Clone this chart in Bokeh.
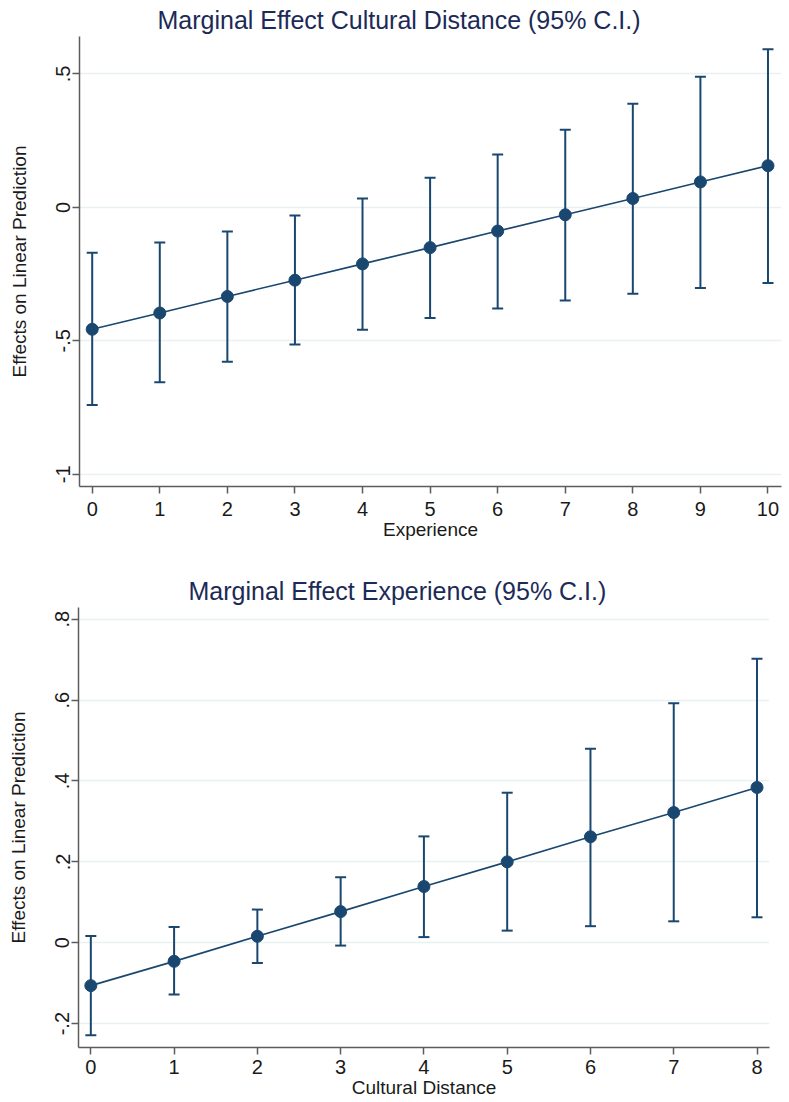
from bokeh.plotting import figure
from bokeh.models import ColumnDataSource, Whisker, TeeHead, Range1d, FixedTicker
from bokeh.embed import file_html
from bokeh.resources import INLINE

# ---- Data: Marginal effect of Cultural Distance over Experience ----
exp_x = [0, 1, 2, 3, 4, 5, 6, 7, 8, 9, 10]
exp_me = [-0.457, -0.396, -0.334, -0.273, -0.212, -0.151, -0.089, -0.028, 0.033, 0.095, 0.156]
exp_hi = [-0.170, -0.132, -0.091, -0.031, 0.033, 0.111, 0.198, 0.291, 0.388, 0.489, 0.592]
exp_lo = [-0.741, -0.655, -0.579, -0.514, -0.459, -0.415, -0.379, -0.349, -0.324, -0.302, -0.284]
exp_yticks = [-1, -0.5, 0, 0.5]
exp_ylabels = ["-1", "-.5", "0", ".5"]

# ---- Data: Marginal effect of Experience over Cultural Distance ----
cd_x = [0, 1, 2, 3, 4, 5, 6, 7, 8]
cd_me = [-0.106, -0.046, 0.016, 0.077, 0.139, 0.200, 0.262, 0.322, 0.384]
cd_hi = [0.017, 0.039, 0.082, 0.162, 0.263, 0.371, 0.480, 0.592, 0.702]
cd_lo = [-0.229, -0.128, -0.050, -0.007, 0.014, 0.030, 0.041, 0.053, 0.063]
cd_yticks = [-0.2, 0, 0.2, 0.4, 0.6, 0.8]
cd_ylabels = ["-.2", "0", ".2", ".4", ".6", ".8"]

NAVY = "#1a476f"
TITLE_C = "#1c2a57"
AXIS_C = "#5c5c5c"
GRID_C = "#e9f1f2"
FONT = "Liberation Sans"


def make(title, xlabel, xs, me, hi, lo, yticks, ylabels, xr, yr, w, h, borders, toff, xso):
    p = figure(width=w, height=h, output_backend="svg", toolbar_location=None,
               x_range=Range1d(*xr), y_range=Range1d(*yr), title=title,
               min_border_left=borders[0], min_border_right=borders[1],
               min_border_top=borders[2], min_border_bottom=borders[3])
    p.title.text_font = FONT
    p.title.text_font_size = "25px"
    p.title.text_font_style = "normal"
    p.title.text_color = TITLE_C
    p.title.align = "left"
    p.title.offset = toff
    p.title.standoff = 5
    p.outline_line_color = None
    p.background_fill_color = "white"
    p.border_fill_color = "white"

    p.xgrid.visible = False
    p.ygrid.ticker = FixedTicker(ticks=yticks)
    p.ygrid.grid_line_color = GRID_C
    p.ygrid.grid_line_width = 1.5

    p.xaxis.ticker = FixedTicker(ticks=xs)
    p.yaxis.ticker = FixedTicker(ticks=yticks)
    p.yaxis.major_label_overrides = {t: l for t, l in zip(yticks, ylabels)}
    p.yaxis.major_label_orientation = "vertical"
    for ax in (p.xaxis, p.yaxis):
        ax.axis_line_color = AXIS_C
        ax.axis_line_width = 1.5
        ax.major_tick_line_color = AXIS_C
        ax.major_tick_line_width = 1.5
        ax.major_tick_out = 7
        ax.major_tick_in = 0
        ax.minor_tick_line_color = None
        ax.major_label_text_font = FONT
        ax.major_label_text_font_size = "20px"
        ax.major_label_text_color = "#1a1a1a"
        ax.axis_label_text_font = FONT
        ax.axis_label_text_font_size = "19px"
        ax.axis_label_text_font_style = "normal"
        ax.axis_label_text_color = "#1a1a1a"
    p.xaxis.axis_label = xlabel
    p.xaxis.major_label_standoff = xso
    p.xaxis.axis_label_standoff = 0
    p.yaxis.axis_label = "Effects on Linear Prediction"
    p.yaxis.major_label_standoff = 2
    p.yaxis.axis_label_standoff = 24

    src = ColumnDataSource(dict(x=xs, me=me, hi=hi, lo=lo))
    wk = Whisker(base="x", upper="hi", lower="lo", source=src, dimension="height",
                 line_color=NAVY, line_width=2,
                 upper_head=TeeHead(size=11, line_color=NAVY, line_width=2),
                 lower_head=TeeHead(size=11, line_color=NAVY, line_width=2))
    p.add_layout(wk)
    p.line("x", "me", source=src, line_color=NAVY, line_width=1.6)
    p.scatter("x", "me", source=src, size=12, fill_color=NAVY, line_color=NAVY)
    return p


p1 = make("Marginal Effect Cultural Distance (95% C.I.)", "Experience",
          exp_x, exp_me, exp_hi, exp_lo, exp_yticks, exp_ylabels,
          (-0.188, 10.2), (-1.046, 0.64), 785, 556, (79, 4, 36, 70), 78, 8)
p2 = make("Marginal Effect Experience (95% C.I.)", "Cultural Distance",
          cd_x, cd_me, cd_hi, cd_lo, cd_yticks, cd_ylabels,
          (-0.148, 8.15), (-0.259, 0.829), 785, 544, (78, 16, 51, 50), 110, 5)

open("out.html", "w").write(file_html([p1, p2], INLINE))
